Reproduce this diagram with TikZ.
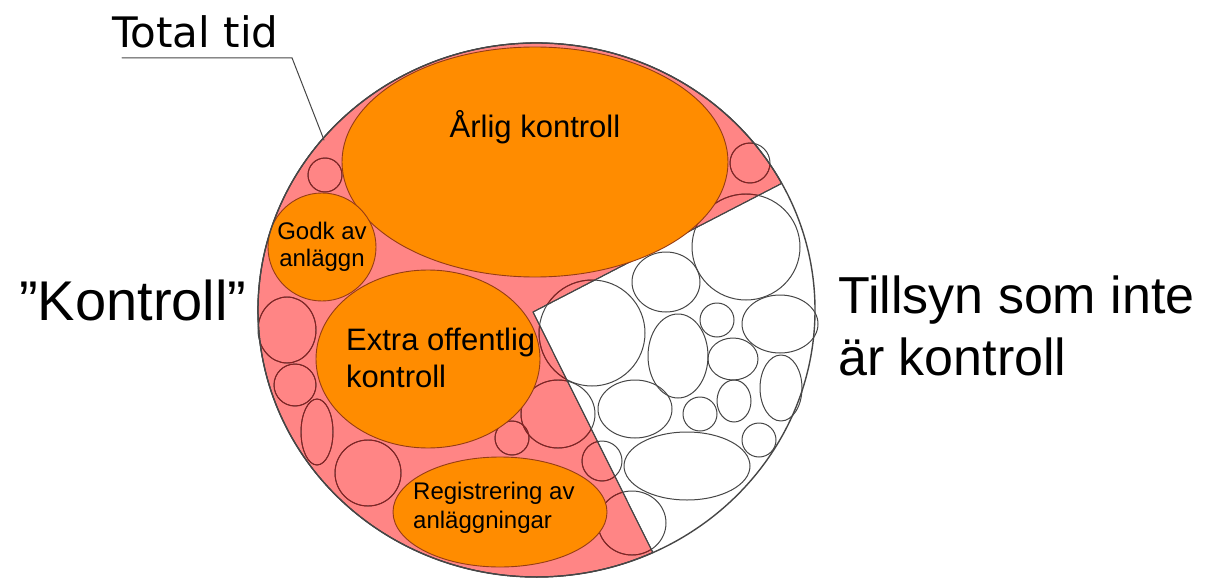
\documentclass[tikz,border=0pt]{standalone}
\usepackage{fontspec}
\setmainfont{Liberation Sans}
\newfontfamily\dejavu{DejaVu Sans}
\definecolor{pinkfill}{RGB}{255,133,133}
\definecolor{orangefill}{RGB}{255,140,0}
\definecolor{orangeline}{RGB}{150,60,20}
\definecolor{pinkline}{RGB}{140,30,30}
\definecolor{greyline}{RGB}{70,70,70}
\begin{document}
\begin{tikzpicture}[x=1pt,y=-1pt, line join=round, line cap=round,
	pinkc/.style={draw=pinkline, line width=0.9pt},
	whitec/.style={draw=greyline, line width=1pt},
	orangec/.style={fill=orangefill, draw=orangeline, line width=0.9pt},
	lbl/.style={inner sep=0pt, text=black}]
	\useasboundingbox (0,0) rectangle (1221,578);
	\def \cx{536.5};
	\def \cy{310};
	\def \rx{278.5};
	\def \ry{267};
	\def \sector{(533,312) -- (781.7,183.4) arc[start angle=-28.3, end angle=-294.7, x radius=\rx, y radius=\ry] -- cycle}
	\def \smallones{746/247/54/53, 666/282/34/30, 592/333/53/53, 678/356/30/42, 717/320/17/17, 780/324/38/29, 733/359/25/21, 781/388/21/33, 734/401/17/21, 700/414/17/17, 635/409/37/29, 759/440/17/17, 687/466/63/34, 325/175/17/17, 750/163/20/20, 287/330/29/33, 295/385/21/21, 317/432/16/33, 368/473/33/33, 512/438/17/17, 558/414/37/34, 602/461/20/20, 632/523/34/32}
	% kontroll part of the total time
	\filldraw[fill=pinkfill, draw=greyline, line width=1pt] \sector;
	\foreach \x/\y/\a/\b in \smallones
		{\draw[whitec] (\x,\y) ellipse[x radius=\a, y radius=\b];}
	\begin{scope}
		\clip \sector;
		\foreach \x/\y/\a/\b in \smallones
			{\draw[pinkc] (\x,\y) ellipse[x radius=\a, y radius=\b];}
	\end{scope}
	\draw[greyline, line width=1pt] \sector;
	\filldraw[orangec] (535,162) ellipse[x radius=193, y radius=115];
	\filldraw[orangec] (322,247) ellipse[x radius=54, y radius=54];
	\filldraw[orangec] (428,359) ellipse[x radius=112, y radius=89];
	\filldraw[orangec] (500,512) ellipse[x radius=107, y radius=55];
	\draw[greyline, line width=1.4pt] (\cx,\cy) ellipse[x radius=\rx, y radius=\ry];
	% labels
	\node[lbl, anchor=center, font=\fontsize{31}{37}\selectfont] (arlig) at (535,127) {Årlig kontroll};
	\node[lbl, anchor=center, align=center, font=\fontsize{24}{27}\selectfont] (godk) at (322,247) {Godk av\\anläggn};
	\node[lbl, anchor=west, align=left, font=\fontsize{31}{37}\selectfont] (extra) at (346,358) {Extra offentlig\\kontroll};
	\node[lbl, anchor=west, align=left, font=\fontsize{24}{29}\selectfont] (reg) at (413,508) {Registrering av\\anläggningar};
	\node[lbl, anchor=base west, font=\dejavu\fontsize{42}{50}\selectfont] (total) at (112,48) {Total tid};
	\node[lbl, anchor=base west, font=\fontsize{56}{62}\selectfont] (kontroll) at (19,320) {”Kontroll”};
	\node[lbl, anchor=west, align=left, font=\fontsize{52}{62}\selectfont] (tillsyn) at (838,326) {Tillsyn som inte\\är kontroll};
	\coordinate (tip) at (324,140);
	\draw[greyline, line width=1pt] ([xshift=10pt,yshift=-9pt]total.south west) -- ++(170,0) -- (tip);
\end{tikzpicture}
\end{document}
